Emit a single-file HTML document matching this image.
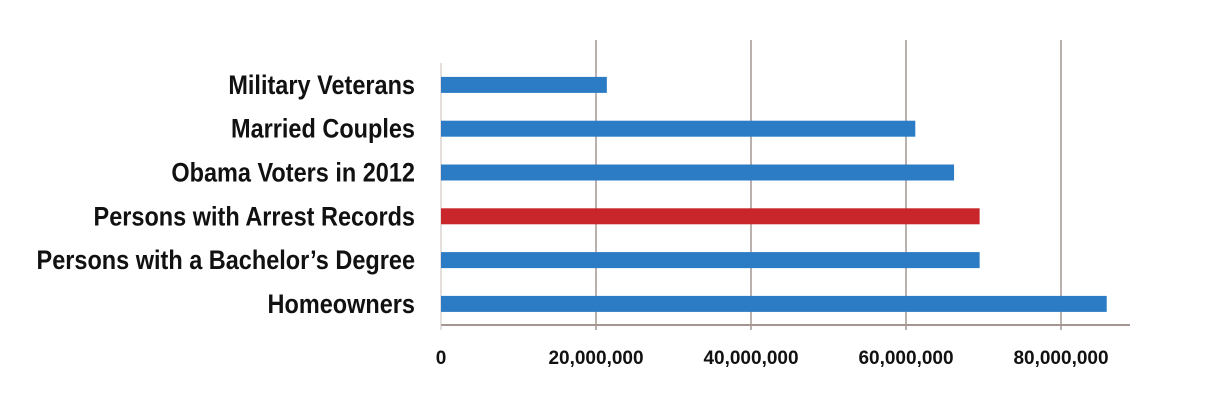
<!DOCTYPE html>
<html><head><meta charset="utf-8"><style>
body{margin:0;background:#fff;}
svg text{font-family:"Liberation Sans Narrow","Liberation Sans",sans-serif;font-weight:bold;fill:#111;}
</style></head><body>
<svg id="chart" width="1207" height="411" xmlns="http://www.w3.org/2000/svg"></svg>
<script>
const categories=["Military Veterans","Married Couples","Obama Voters in 2012","Persons with Arrest Records","Persons with a Bachelor’s Degree","Homeowners"];
const values=[21400000,61200000,66200000,69500000,69500000,85900000];
const highlight=[false,false,false,true,false,false];
const ticks=[0,20000000,40000000,60000000,80000000];
const tickLabels=["0","20,000,000","40,000,000","60,000,000","80,000,000"];
const svg=document.getElementById('chart');
const NS="http://www.w3.org/2000/svg";
const x0=441,pxPer=155/20000000,yTop=63,rowH=43.8,axisY=325;
const xs=v=>x0+v*pxPer;
const yc=i=>yTop+rowH*(i+0.5);
function mk(t,a){const e=document.createElementNS(NS,t);for(const k in a)e.setAttribute(k,a[k]);svg.appendChild(e);return e;}
ticks.forEach((t,i)=>{
  if(i>0){const g=mk('line',{x1:xs(t),x2:xs(t),y1:40,y2:axisY+5,stroke:'#a49592','stroke-width':1.5});
  
  }
  const l=mk('text',{x:xs(t),y:364,'text-anchor':'middle','font-size':19});
  l.textContent=tickLabels[i];
  
  
});
const ax=mk('line',{x1:x0,x2:1130,y1:axisY,y2:axisY,stroke:'#a49592','stroke-width':2});


const ay=mk('line',{x1:x0,x2:x0,y1:63,y2:axisY+5,stroke:'#c8bcba','stroke-width':1});


categories.forEach((c,i)=>{
  const b=mk('rect',{x:x0,y:yc(i)-8,width:xs(values[i])-x0,height:16,fill:highlight[i]?'#c8262b':'#2b7cc4'});
  
  
  const t=mk('text',{x:415,y:yc(i)+9,'text-anchor':'end','font-size':27});
  t.textContent=c;
  
  
  t.setAttribute('transform',`translate(415 0) scale(0.87 1) translate(-415 0)`);
});
</script>
</body></html>
